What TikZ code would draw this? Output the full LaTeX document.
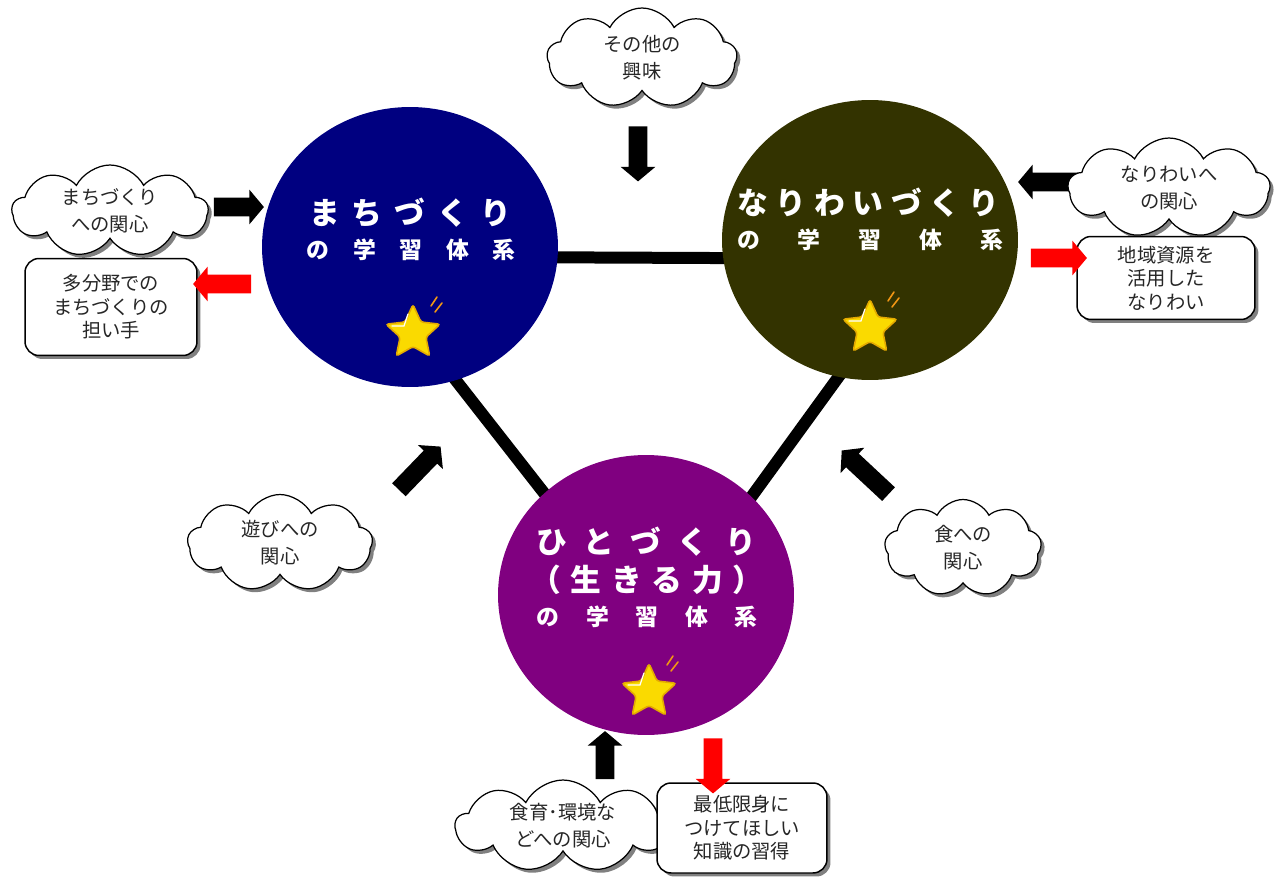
\documentclass[tikz,border=0pt]{standalone}
\usepackage{fontspec}
\setmainfont{Noto Sans CJK JP}
\usetikzlibrary{shapes.symbols, shapes.geometric, shapes.arrows, shadows, backgrounds}

\definecolor{machi}{RGB}{0,0,128}
\definecolor{nari}{RGB}{51,51,0}
\definecolor{hito}{RGB}{128,0,128}
\definecolor{stargold}{RGB}{250,218,0}
\definecolor{staredge}{RGB}{228,170,0}
\definecolor{sparkorange}{RGB}{240,150,20}
\newcommand{\spread}[2]{\makebox[#1][s]{#2}}

\begin{document}
\begin{tikzpicture}[
      x=0.02cm, y=-0.02cm,
      field/.style={ellipse, fill=#1, minimum width=5.92cm, minimum height=5.6cm, inner sep=0pt},
      title/.style={text=white, inner sep=0pt, font=\fontsize{17.5}{20}\selectfont\bfseries},
      subtitle/.style={text=white, inner sep=0pt, font=\fontsize{13}{15}\selectfont\bfseries},
      link/.style={line width=0.24cm, shorten <=-0.2cm, shorten >=-0.2cm},
      shade box/.style={drop shadow={shadow xshift=0.07cm, shadow yshift=-0.07cm, fill=black!50, opacity=1}},
      interest/.style={cloud, cloud puffs=9, cloud puff arc=125, cloud ignores aspect, draw, line width=0.7pt,
        fill=white, shade box, align=center, inner sep=0pt, text=black!85, font=\fontsize{11}{15.5}\selectfont},
      outcome/.style={rectangle, rounded corners=0.28cm, draw, line width=0.85pt, fill=white, shade box,
        align=center, inner sep=0pt, text=black!85, font=\fontsize{11}{13.4}\selectfont},
      flow/.style={single arrow, fill=#1, inner xsep=0pt, inner ysep=0.18cm, text height=0pt, text depth=0pt,
        text width=0pt, single arrow head extend=0.16cm, single arrow tip angle=100},
      starmark/.style={star, star points=5, star point ratio=2.1, minimum size=1.14cm, inner sep=0pt,
        fill=stargold, draw=staredge, line width=0.9pt, rounded corners=1.5pt},
      sparkle/.style={draw=sparkorange, line width=0.9pt, line cap=round}
      ]
      % fields
      \node [field=machi] (machi) at (410,247) {};
      \node [field=nari] (nari) at (870,240) {};
      \node [field=hito] (hito) at (646,595) {};
      % links
      \begin{scope}[on background layer]
        \draw [link] (machi.-4.5) -- (nari.187.5);
        \draw [link] (machi.-71.7) -- (hito.135.9);
        \draw [link] (nari.257.7) -- (hito.43.3);
      \end{scope}
      % titles
      \node [title] (machiA) at (410,213) {\spread{4.04cm}{ま\hfill ち\hfill づ\hfill く\hfill り}};
      \node [subtitle] (machiB) at (411,250) {\spread{4.18cm}{の\hfill 学\hfill 習\hfill 体\hfill 系}};
      \node [title] (nariA) at (868,203) {\spread{5.24cm}{な\hfill り\hfill わ\hfill い\hfill づ\hfill く\hfill り}};
      \node [subtitle] (nariB) at (870,240) {\spread{5.32cm}{の\hfill 学\hfill 習\hfill 体\hfill 系}};
      \node [title] (hitoA) at (646,542) {\spread{4.4cm}{ひ\hfill と\hfill づ\hfill く\hfill り}};
      \node [title] (hitoB) at (647,580) {\spread{4.66cm}{（\hfill 生\hfill き\hfill る\hfill 力\hfill ）}};
      \node [subtitle] (hitoC) at (647,617) {\spread{4.42cm}{の\hfill 学\hfill 習\hfill 体\hfill 系}};
      % stars
      \foreach \n/\x/\y in {machistar/413/333, naristar/870/328, hitostar/649/692} {
          \node [starmark] (\n) at (\x,\y) {};
          \draw [white, line width=0.7pt, line cap=round] (\n.center) ++(-21,-7) -- ++(12,0) -- ++(4,-12);
          \draw [sparkle] (\n.center) ++(18,-27) -- ++(6,-9);
          \draw [sparkle] (\n.center) ++(22,-21) -- ++(7,-9);
      }
      % black arrows
      \node [flow=black, minimum height=1cm] (toMachi) at (235,207) {};
      \node [flow=black, minimum height=1.1cm, rotate=-90] (toTop) at (638,150) {};
      \node [flow=black, minimum height=1.2cm, rotate=180] (toNari) at (1052,182) {};
      \node [flow=black, minimum height=1.2cm, rotate=46] (fromPlay) at (417,471) {};
      \node [flow=black, minimum height=1.28cm, rotate=137] (fromFood) at (868,475) {};
      \node [flow=black, minimum height=0.96cm, rotate=90] (fromEdu) at (605,759) {};
      % interests
      \node [interest, minimum width=3.92cm, minimum height=1.84cm] (c1) at (110,211) {まちづくり\\への関心};
      \node [interest, minimum width=3.8cm, minimum height=2cm] (c2) at (642,58) {その他の\\興味};
      \node [interest, minimum width=4.04cm, minimum height=2cm] (c3) at (1169,188) {なりわいへ\\の関心};
      \node [interest, minimum width=3.7cm, minimum height=1.94cm] (c4) at (280,543) {遊びへの\\関心};
      \node [interest, minimum width=3.14cm, minimum height=1.94cm] (c5) at (963,548) {食への\\関心};
      \node [interest, minimum width=4.3cm, minimum height=1.84cm] (c6) at (563,826) {食育･環境な\\どへの関心};
      % outcomes
      \node [outcome, minimum width=3.44cm, minimum height=1.94cm] (b1) at (111,307) {多分野での\\まちづくりの\\担い手};
      \node [outcome, minimum width=3.56cm, minimum height=1.66cm] (b2) at (1166,278) {地域資源を\\活用した\\なりわい};
      \node [outcome, minimum width=3.4cm, minimum height=1.8cm] (b3) at (742,828) {最低限身に\\つけてほしい\\知識の習得};
      % red arrows
      \node [flow=red, minimum height=1.16cm, rotate=180] (outMachi) at (226,284) {};
      \node [flow=red, minimum height=1.12cm] (outNari) at (1055,258) {};
      \node [flow=red, minimum height=1.1cm, rotate=-90] (outHito) at (713,762) {};
      \useasboundingbox (0,0) rectangle (1282,879);
    \end{tikzpicture}
\end{document}
